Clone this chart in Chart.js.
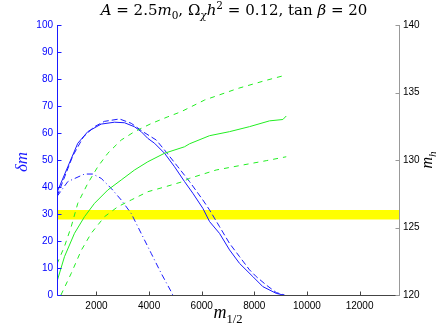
<!DOCTYPE html>
<html>
<head>
<meta charset="utf-8">
<script src="https://cdn.jsdelivr.net/npm/chart.js@4.4.1/dist/chart.umd.min.js"></script>
<style>
  html, body { margin: 0; padding: 0; background: #fff; }
  #wrap { width: 441px; height: 332px; }
</style>
</head>
<body>
<div id="wrap"><canvas id="chart" width="441" height="332"></canvas></div>
<script>
// tick labels
const xTicks = [2000, 4000, 6000, 8000, 10000, 12000];
const dmTicks = [0, 10, 20, 30, 40, 50, 60, 70, 80, 90, 100];
const mhTicks = [120, 125, 130, 135, 140];

// delta m curves (left axis)
const dmSolidX = [500, 911, 1290, 1671, 2180, 2686, 3066, 3447, 3700, 3953, 4207, 4587, 4968, 5348, 5663, 6044, 6298, 6679, 7059, 7439, 7945, 8325, 8835, 9100];
const dmSolidY = [38, 47.5, 56.2, 60.5, 63.3, 64, 63.8, 62.3, 60.5, 58, 56.2, 52.5, 47.5, 42, 37.7, 32.1, 27.2, 22.8, 16.7, 11.7, 6.8, 3.1, 0.6, 0];
const dmDashX = [500, 800, 1100, 1500, 1900, 2300, 2876, 3321, 3763, 4272, 4587, 5093, 5538, 6044, 6298, 6679, 7059, 7439, 7819, 8074, 8454, 8835, 9150];
const dmDashY = [36.5, 44, 51.5, 58.5, 62.2, 64.3, 65.2, 63.6, 60.5, 57.4, 53.7, 47.5, 42, 35.2, 31.5, 25.3, 19.1, 14.2, 9.3, 6.8, 3.7, 0.9, 0];
const dmDotX = [500, 911, 1546, 1861, 2180, 2560, 2941, 3321, 3701, 4082, 4462, 4842, 4900];
const dmDotY = [36.5, 42, 44.8, 44.8, 43.2, 39.5, 35.2, 30.2, 22.8, 15.4, 8, 1.2, 0];

// m_h curves (right axis)
const mhSolidX = [500, 785, 1165, 1546, 1926, 2432, 2941, 3447, 3952, 4587, 5348, 5538, 6298, 7059, 7819, 8580, 9086, 9215];
const mhSolidY = [121.0, 122.84, 124.57, 125.8, 126.79, 127.78, 128.52, 129.26, 129.87, 130.5, 130.98, 131.2, 131.8, 132.1, 132.47, 132.9, 133.0, 133.26];
const mhUpX = [500, 785, 1040, 1291, 1671, 2051, 2432, 2941, 3447, 4082, 4713, 5222, 6108, 7375, 8390, 9215];
const mhUpY = [122.3, 123.6, 125.06, 126.8, 128.27, 129.5, 130.5, 131.48, 132.1, 132.7, 133.2, 133.58, 134.44, 135.3, 135.87, 136.3];
const mhLowX = [650, 1040, 1420, 1800, 2306, 2812, 3321, 3952, 4587, 5283, 5538, 6552, 7565, 8454, 9215];
const mhLowY = [120, 121.6, 123.3, 124.57, 125.8, 126.54, 127.04, 127.65, 128.0, 128.4, 128.64, 129.26, 129.63, 129.95, 130.24];

// measured Higgs mass band
const bandX = [500, 13500];
const bandLow = [125.6, 125.6];
const bandHigh = [126.3, 126.3];

const BLUE = '#1a1aff';
const GREEN = '#22ee22';
const SERIF = '"Liberation Serif", "DejaVu Serif", serif';
const SANS = '"Liberation Sans", Arial, sans-serif';

function pts(xs, ys) {
    return xs.map((x, i) => ({ x: x, y: ys[i] }));
}

// draw a row of text pieces, some italic / sub / sup, centred on cx
function drawRuns(ctx, runs, cx, y, size, family) {
    family = family || SERIF;
    const fontOf = r => (r.it ? 'italic ' : '') + (r.sub || r.sup ? size * 0.7 : size) + 'px ' + family;
    let total = 0;
    runs.forEach(r => { ctx.font = fontOf(r); total += ctx.measureText(r.t).width; });
    let x = cx - total / 2;
    ctx.textAlign = 'left';
    ctx.textBaseline = 'alphabetic';
    runs.forEach(r => {
        ctx.font = fontOf(r);
        const dy = r.sub ? size * 0.28 : (r.sup ? -size * 0.42 : 0);
        ctx.fillText(r.t, x, y + dy);
        x += ctx.measureText(r.t).width;
    });
}

const decor = {
    id: 'decor',
    afterDraw(chart) {
        const ctx = chart.ctx;
        const a = chart.chartArea;
        const sx = chart.scales.x, sy = chart.scales.y, sy2 = chart.scales.y2;
        const L = a.left + 0.5, R = a.right + 0.5, B = a.bottom + 0.5, T = a.top;
        const tl = 4;
        ctx.save();
        ctx.lineWidth = 1;

        // bottom axis + inward ticks
        ctx.strokeStyle = '#444';
        ctx.beginPath();
        ctx.moveTo(L, B); ctx.lineTo(R, B);
        xTicks.forEach(v => {
            const px = Math.round(sx.getPixelForValue(v)) + 0.5;
            ctx.moveTo(px, B); ctx.lineTo(px, B - tl);
        });
        ctx.stroke();

        // left axis
        ctx.strokeStyle = BLUE;
        ctx.beginPath();
        ctx.moveTo(L, T); ctx.lineTo(L, B);
        dmTicks.forEach(v => {
            const py = Math.round(sy.getPixelForValue(v)) + 0.5;
            ctx.moveTo(L, py); ctx.lineTo(L + tl, py);
        });
        ctx.stroke();

        // right axis
        ctx.strokeStyle = '#999';
        ctx.beginPath();
        ctx.moveTo(R, T); ctx.lineTo(R, B);
        mhTicks.forEach(v => {
            const py = Math.round(sy2.getPixelForValue(v)) + 0.5;
            ctx.moveTo(R, py); ctx.lineTo(R - tl, py);
        });
        ctx.stroke();

        // title
        ctx.fillStyle = '#000';
        drawRuns(ctx, [
            { t: 'A', it: true }, { t: ' = 2.5' }, { t: 'm', it: true }, { t: '0', sub: true },
            { t: ', Ω' }, { t: 'χ', it: true, sub: true }, { t: 'h', it: true }, { t: '2', sup: true },
            { t: ' = 0.12, tan ' }, { t: 'β', it: true }, { t: ' = 20' }
        ], 234, 15, 15, '"DejaVu Serif", serif');

        // x title
        drawRuns(ctx, [{ t: 'm', it: true }, { t: '1/2', sub: true }], 228, 318, 18);

        // left title (blue, rotated)
        ctx.save();
        ctx.translate(27, 162);
        ctx.rotate(-Math.PI / 2);
        ctx.fillStyle = BLUE;
        drawRuns(ctx, [{ t: 'δ', it: true }, { t: 'm', it: true }], 0, 0, 17);
        ctx.restore();

        // right title (rotated)
        ctx.save();
        ctx.translate(432, 160);
        ctx.rotate(-Math.PI / 2);
        ctx.fillStyle = '#000';
        drawRuns(ctx, [{ t: 'm', it: true }, { t: 'h', it: true, sub: true }], 0, 0, 16);
        ctx.restore();

        ctx.restore();
    }
};

const tickFont = { family: SANS, size: 10 };

new Chart(document.getElementById('chart'), {
    type: 'line',
    data: {
        datasets: [
            { data: pts(bandX, bandLow), yAxisID: 'y2', borderColor: 'rgba(0,0,0,0)', borderWidth: 0, fill: false, order: 10 },
            { data: pts(bandX, bandHigh), yAxisID: 'y2', borderColor: 'rgba(0,0,0,0)', borderWidth: 0, fill: '-1', backgroundColor: '#ffff00', order: 9 },
            { data: pts(mhSolidX, mhSolidY), yAxisID: 'y2', borderColor: GREEN },
            { data: pts(mhUpX, mhUpY), yAxisID: 'y2', borderColor: GREEN, borderDash: [5, 5] },
            { data: pts(mhLowX, mhLowY), yAxisID: 'y2', borderColor: GREEN, borderDash: [5, 5] },
            { data: pts(dmSolidX, dmSolidY), yAxisID: 'y', borderColor: BLUE },
            { data: pts(dmDashX, dmDashY), yAxisID: 'y', borderColor: BLUE, borderDash: [6, 3] },
            { data: pts(dmDotX, dmDotY), yAxisID: 'y', borderColor: BLUE, borderDash: [6, 3, 1, 3] }
        ]
    },
    options: {
        responsive: false,
        animation: false,
        layout: { padding: { top: 25, left: 0, right: 0, bottom: 0 } },
        elements: {
            point: { radius: 0 },
            line: { tension: 0, borderWidth: 1, fill: false }
        },
        plugins: {
            legend: { display: false },
            tooltip: { enabled: false },
            filler: { drawTime: 'beforeDatasetsDraw' }
        },
        scales: {
            x: {
                type: 'linear', min: 500, max: 13500,
                afterBuildTicks: s => { s.ticks = xTicks.map(v => ({ value: v })); },
                afterFit: s => { s.height = 37; },
                grid: { display: false, drawTicks: false },
                border: { display: false },
                ticks: { color: '#000', font: tickFont, padding: 5, maxRotation: 0, callback: v => String(v) }
            },
            y: {
                position: 'left', min: 0, max: 100,
                afterBuildTicks: s => { s.ticks = dmTicks.map(v => ({ value: v })); },
                afterFit: s => { s.width = 57; },
                grid: { display: false, drawTicks: false },
                border: { display: false },
                ticks: { color: '#0000ff', font: tickFont, padding: 4, callback: v => String(v) }
            },
            y2: {
                position: 'right', min: 120, max: 140,
                afterBuildTicks: s => { s.ticks = mhTicks.map(v => ({ value: v })); },
                afterFit: s => { s.width = 42; },
                grid: { display: false, drawTicks: false },
                border: { display: false },
                ticks: { color: '#000', font: tickFont, padding: 4, callback: v => String(v) }
            }
        }
    },
    plugins: [decor]
});
</script>
</body>
</html>
